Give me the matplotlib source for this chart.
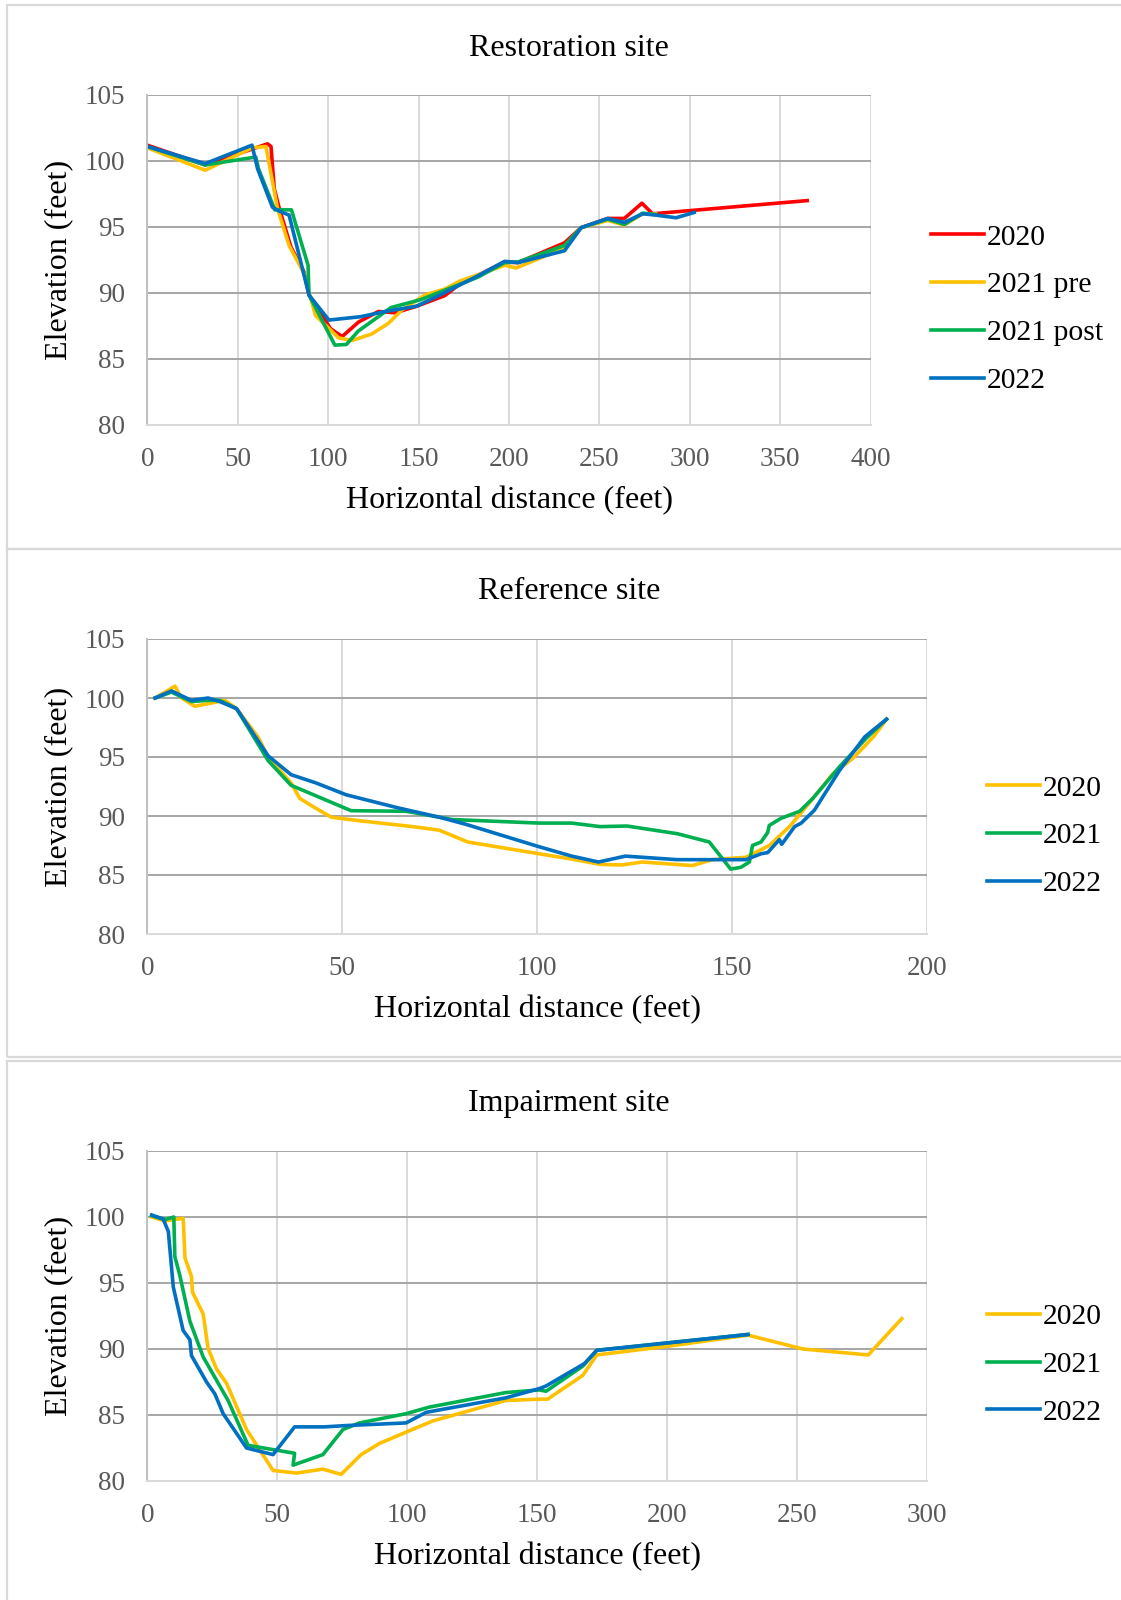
import matplotlib
matplotlib.use("Agg")
import matplotlib.pyplot as plt
from matplotlib.patches import Rectangle

plt.rcParams['font.family'] = ['Liberation Serif', 'DejaVu Serif']

RED, YELLOW, GREEN, BLUE = "#FF0000", "#FFC000", "#00B050", "#0070C0"

# ---- Restoration site ----
rest_2020_x = [0, 32, 66.5, 68.4, 70.2, 73, 79.4, 86.6, 89.4, 101.3, 107.7, 116.8, 127.8, 137, 149, 164.5, 172,
               197.6, 205, 230.7, 239.9, 254.6, 263.8, 273.5, 279.4, 364.9]
rest_2020_y = [101.2, 99.7, 101.3, 101.1, 97.9, 96.4, 93.5, 91.6, 89.85, 87.3, 86.7, 87.8, 88.6, 88.5, 89.0, 89.8, 90.6,
               92.35, 92.3, 93.8, 94.95, 95.65, 95.65, 96.8, 96.0, 97.0]
rest_2021pre_x = [0, 32, 58, 65.6, 72, 78.4, 86.6, 93, 105.8, 113.2, 124.2, 133.3, 140.7, 153.5, 164.5, 172.8,
                  197.6, 204, 230.7, 239.9, 254.6, 263.8, 273.9, 281]
rest_2021pre_y = [101.0, 99.3, 101.0, 101.1, 96.4, 93.6, 91.5, 88.3, 86.6, 86.4, 86.9, 87.7, 88.7, 89.85, 90.3, 90.9,
                  92.1, 91.9, 93.4, 94.95, 95.5, 95.15, 96.0, 96.0]
rest_2021post_x = [0, 32, 60, 61.5, 70.5, 79.7, 88.9, 89.4, 103.7, 110.1, 116.5, 134.8, 151.3, 182.8, 197.6, 205,
                   230.7, 239.9, 254.6, 263.8, 273.9, 281]
rest_2021post_y = [101.1, 99.7, 100.3, 99.4, 96.3, 96.3, 92.1, 89.85, 86.05, 86.1, 87.1, 88.9, 89.5, 91.2, 92.3, 92.35,
                   93.6, 94.95, 95.6, 95.2, 96.05, 95.95]
rest_2022_x = [0, 32, 57.9, 61, 69.2, 73, 78.4, 89.4, 100.4, 117.8, 131.5, 148.9, 161.8, 182.8, 197.6, 205, 230.7,
               239.9, 254.6, 263.8, 273.9, 281.3, 292.3, 302.4]
rest_2022_y = [101.1, 99.8, 101.2, 99.4, 96.5, 96.2, 95.9, 89.85, 87.95, 88.2, 88.6, 89.0, 89.85, 91.3, 92.4, 92.3,
               93.2, 94.95, 95.65, 95.35, 96.0, 95.9, 95.7, 96.1]

# ---- Reference site ----
ref_2020_x = [2, 7.1, 8.8, 12.2, 19.9, 22.9, 28.4, 31, 36.9, 39.1, 42.5, 47.2, 54.4, 68.1, 74.9, 82.2, 100.5, 108.9,
              116.2, 121.8, 127, 139.9, 145, 153.6, 159.6, 164.8, 169.1, 176, 181.1, 186.3, 189.7]
ref_2020_y = [100, 101.0, 100, 99.3, 99.8, 99.1, 96.7, 95.0, 92.8, 91.5, 90.8, 89.9, 89.6, 89.1, 88.8, 87.8, 86.8, 86.35,
              85.9, 85.85, 86.1, 85.8, 86.3, 86.5, 87.5, 89.1, 90.8, 93.6, 94.9, 96.7, 98.2]
ref_2021_x = [2, 6.2, 11.3, 15.6, 18.6, 22.9, 31, 36.9, 52.3, 66.4, 78.3, 100.5, 108.9, 116.2, 123.1, 136, 144.2,
              149.7, 152.3, 154.5, 155.3, 157.5, 159.2, 159.6, 162.6, 167.4, 170.8, 177.7, 184.5, 189.7]
ref_2021_y = [100, 100.5, 99.7, 99.8, 99.8, 99.1, 94.7, 92.6, 90.45, 90.4, 89.7, 89.4, 89.4, 89.1, 89.15, 88.5, 87.8,
              85.5, 85.65, 86.1, 87.5, 87.8, 88.6, 89.2, 89.8, 90.4, 91.5, 94.2, 96.6, 98.2]
ref_2022_x = [2, 6.2, 11.3, 15.6, 18.6, 22.9, 31, 36.9, 43.3, 51, 64.2, 74.9, 81.7, 100.5, 108.9, 115.8, 122.7, 136,
              148.5, 153.6, 157.5, 159.2, 162.2, 162.8, 166.1, 167.8, 171.2, 177.7, 184.1, 186.3, 189.7]
ref_2022_y = [100, 100.6, 99.8, 100.0, 99.7, 99.1, 95.1, 93.5, 92.8, 91.8, 90.7, 89.9, 89.3, 87.4, 86.6, 86.1, 86.6,
              86.3, 86.3, 86.3, 86.8, 86.9, 88.0, 87.6, 89.1, 89.4, 90.5, 93.9, 96.7, 97.3, 98.2]

# ---- Impairment site ----
imp_2020_x = [1.7, 6.8, 13.8, 14.5, 17, 17.4, 21.5, 23.4, 26.6, 30.5, 38.2, 48.4, 57.4, 67.6, 74.6, 82.3, 89.4, 99.6,
              109.9, 138, 150.9, 154.1, 167.6, 173, 200, 231.2, 252.4, 277.5, 290.4]
imp_2020_y = [100.0, 99.7, 99.9, 96.9, 95.5, 94.3, 92.65, 90.05, 88.5, 87.4, 83.9, 80.8, 80.6, 80.9, 80.5, 82.0, 82.85,
              83.7, 84.55, 86.1, 86.2, 86.2, 88.0, 89.55, 90.2, 91.05, 90.0, 89.55, 92.3]
imp_2021_x = [1.7, 6.8, 10.2, 10.6, 12.5, 16.4, 21.5, 31.1, 38.8, 56.7, 56.1, 67.6, 75.3, 81.7, 99.6, 108.6, 138,
              150.9, 153.5, 167.6, 173, 231.2]
imp_2021_y = [100.1, 99.8, 100.0, 97.0, 95.6, 92.1, 89.4, 86.1, 82.7, 82.1, 81.2, 82.0, 83.9, 84.4, 85.1, 85.6, 86.7,
              86.9, 86.8, 88.7, 89.9, 91.1]
imp_2022_x = [1.7, 6.1, 8.1, 10, 13.8, 16.4, 17, 22.8, 26, 29.2, 38.2, 48.4, 56.7, 68.2, 76.6, 99.6, 107.3, 138,
              150.9, 153.5, 168.3, 173, 231.2]
imp_2022_y = [100.15, 99.85, 98.9, 94.7, 91.4, 90.7, 89.5, 87.5, 86.6, 85.1, 82.5, 82.0, 84.1, 84.1, 84.2, 84.4, 85.2,
              86.3, 87.0, 87.2, 88.9, 89.9, 91.1]

panels = [
    {"title": "Restoration site", "xmax": 400, "xstep": 50,
     "series": [(rest_2020_x, rest_2020_y, "2020", RED),
                (rest_2021pre_x, rest_2021pre_y, "2021 pre", YELLOW),
                (rest_2021post_x, rest_2021post_y, "2021 post", GREEN),
                (rest_2022_x, rest_2022_y, "2022", BLUE)]},
    {"title": "Reference site", "xmax": 200, "xstep": 50,
     "series": [(ref_2020_x, ref_2020_y, "2020", YELLOW),
                (ref_2021_x, ref_2021_y, "2021", GREEN),
                (ref_2022_x, ref_2022_y, "2022", BLUE)]},
    {"title": "Impairment site", "xmax": 300, "xstep": 50,
     "series": [(imp_2020_x, imp_2020_y, "2020", YELLOW),
                (imp_2021_x, imp_2021_y, "2021", GREEN),
                (imp_2022_x, imp_2022_y, "2022", BLUE)]},
]

W, H = 1121, 1600
fig = plt.figure(figsize=(W / 100, H / 100), dpi=100)

# layout in pixels: (left, right, top, bottom) of plot area, title y, legend x, legend center y, frame top/bottom
layout = [
    (147.3, 870.7, 95, 425, 48, 931, 309, 5, 549),
    (147.3, 926.7, 639, 934, 591.5, 987, 836, 549, 1057),
    (147.3, 926.7, 1151, 1481, 1103.6, 987, 1364.6, 1061, 1640),
]

for p, (l, r, t, b, ty, lx, ly, ft, fb) in zip(panels, layout):
    fig.patches.append(Rectangle((7 / W, 1 - fb / H), 1.2, (fb - ft) / H, transform=fig.transFigure,
                                 fill=False, edgecolor="#D9D9D9", lw=1.6, zorder=0))
    ax = fig.add_axes([l / W, 1 - b / H, (r - l) / W, (b - t) / H])
    for xs, ys, lab, col in p["series"]:
        ax.plot(xs, ys, color=col, lw=2.6, label=lab, solid_joinstyle="round")
    ax.set_xlim(0, p["xmax"])
    ax.set_ylim(80, 105)
    ax.set_xticks(range(0, p["xmax"] + 1, p["xstep"]))
    ax.set_yticks(range(80, 106, 5))
    for yv in range(85, 106, 5):
        ax.axhline(yv, color="#A6A6A6", lw=1.4, zorder=0.5)
    for xv in range(p["xstep"], p["xmax"] + 1, p["xstep"]):
        ax.axvline(xv, color="#D9D9D9", lw=1.4, zorder=0.4)
    for s in ["top", "right"]:
        ax.spines[s].set_visible(False)
    ax.spines["left"].set_color("#BFBFBF")
    ax.spines["bottom"].set_color("#D9D9D9")
    ax.spines["left"].set_linewidth(1.4)
    ax.spines["bottom"].set_linewidth(1.4)
    ax.tick_params(length=0, labelsize=19.5, labelcolor="#595959")
    ax.tick_params(axis="y", pad=16)
    ax.tick_params(axis="x", pad=15.5)
    ax.set_xlabel("Horizontal distance (feet)", fontsize=23, va="center")
    ax.xaxis.set_label_coords(0.5, -76 / (b - t))
    ax.set_ylabel("Elevation (feet)", fontsize=23, va="center")
    ax.yaxis.set_label_coords(-(l - 59) / (r - l), 0.5)
    fig.text(569 / W, 1 - ty / H, p["title"], fontsize=23, ha="center", va="center")
    ax.legend(loc="center left", bbox_to_anchor=(lx / W, 1 - ly / H), bbox_transform=fig.transFigure,
              frameon=False, fontsize=21.3, handlelength=1.78, handletextpad=0.1, labelspacing=0.71,
              borderpad=0, borderaxespad=0)

fig.savefig("out.png", dpi=100)
